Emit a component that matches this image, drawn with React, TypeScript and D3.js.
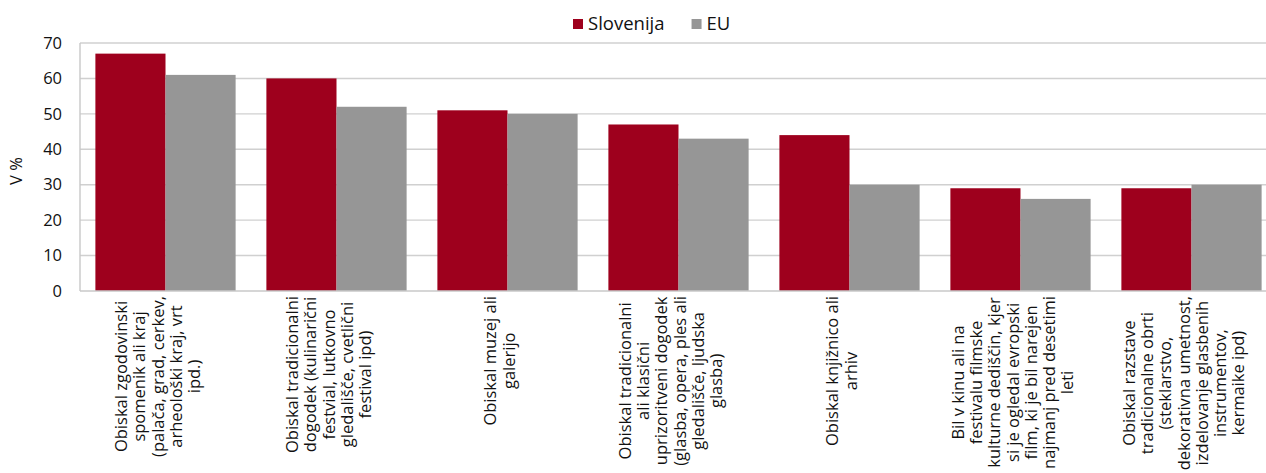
import { useEffect, useRef } from 'react'
import * as d3 from 'd3'

const categories: string[][] = [
  ['Obiskal zgodovinski', 'spomenik ali kraj', '(palača, grad, cerkev,', 'arheološki kraj, vrt', 'ipd.)'],
  ['Obiskal tradicionalni', 'dogodek (kulinarični', 'festvial, lutkovno', 'gledališče, cvetlični', 'festival ipd)'],
  ['Obiskal muzej ali', 'galerijo'],
  ['Obiskal tradicionalni', 'ali klasični', 'uprizoritveni dogodek', '(glasba, opera, ples ali', 'gledališče, ljudska', 'glasba)'],
  ['Obiskal knjižnico ali', 'arhiv'],
  ['Bil v kinu ali na', 'festivalu filmske', 'kulturne dediščin, kjer', 'si je ogledal evropski', 'film, ki je bil narejen', 'najmanj pred desetimi', 'leti'],
  ['Obiskal razstave', 'tradicionalne obrti', '(steklarstvo,', 'dekorativna umetnost,', 'izdelovanje glasbenih', 'instrumentov,', 'kermaike ipd)'],
]
const slovenija = [67, 60, 51, 47, 44, 29, 29]
const eu = [61, 52, 50, 43, 30, 26, 30]
const seriesNames = ['Slovenija', 'EU']
const seriesColors = ['#9e001d', '#969696']
const yTicks = [0, 10, 20, 30, 40, 50, 60, 70]

const FONT = '"Open Sans", "Noto Sans", sans-serif'

export default function App() {
  const svgRef = useRef<SVGSVGElement>(null)

  useEffect(() => {
    if (!svgRef.current) return
    const W = 1266
    const H = 473
    const margin = { top: 43, left: 80, bottom: 182 }
    const plotRight = 1277

    const svg = d3.select(svgRef.current)
    svg.selectAll('*').remove()
    svg.attr('width', W).attr('height', H).attr('viewBox', `0 0 ${W} ${H}`)

    const x = d3.scaleBand<number>()
      .domain(d3.range(categories.length))
      .range([margin.left, plotRight])
      .paddingInner(0.18)
      .paddingOuter(0.09)

    const x1 = d3.scaleBand<number>()
      .domain([0, 1])
      .range([0, x.bandwidth()])

    const y = d3.scaleLinear()
      .domain([0, 70])
      .range([H - margin.bottom, margin.top])

    // Grid
    svg.append('g')
      .selectAll('line')
      .data(yTicks.filter(t => t > 0))
      .enter()
      .append('line')
      .attr('x1', margin.left)
      .attr('x2', plotRight)
      .attr('y1', d => y(d))
      .attr('y2', d => y(d))
      .attr('stroke', '#d0d0d0')
      .attr('stroke-width', 1.4)

    // Bars
    const data = categories.map((_, i) => [slovenija[i], eu[i]])
    const groups = svg.append('g')
      .selectAll('g')
      .data(data)
      .enter()
      .append('g')
      .attr('transform', (_, i) => `translate(${x(i)},0)`)

    groups.selectAll('rect')
      .data(d => d)
      .enter()
      .append('rect')
      .attr('x', (_, j) => x1(j)!)
      .attr('width', x1.bandwidth())
      .attr('y', d => y(d))
      .attr('height', d => y(0) - y(d))
      .attr('fill', (_, j) => seriesColors[j])

    // Axis lines
    svg.append('line')
      .attr('x1', margin.left).attr('x2', margin.left)
      .attr('y1', y(70)).attr('y2', y(0))
      .attr('stroke', '#c8c8c8').attr('stroke-width', 1.4)
    svg.append('line')
      .attr('x1', margin.left).attr('x2', plotRight)
      .attr('y1', y(0)).attr('y2', y(0))
      .attr('stroke', '#c8c8c8').attr('stroke-width', 1.4)

    // Y tick labels
    svg.append('g')
      .selectAll('text')
      .data(yTicks)
      .enter()
      .append('text')
      .attr('x', margin.left - 18)
      .attr('y', d => y(d))
      .attr('dy', '0.35em')
      .attr('text-anchor', 'end')
      .attr('font-family', FONT)
      .attr('font-size', 16.5)
      .attr('fill', '#111')
      .text(d => d)

    // Y title
    svg.append('text')
      .attr('transform', `translate(22,171) rotate(-90)`)
      .attr('text-anchor', 'middle')
      .attr('font-family', FONT)
      .attr('font-size', 16.5)
      .attr('fill', '#111')
      .text('V %')

    // Category labels
    const lh = 18.3
    const labelTop = y(0) + 5
    categories.forEach((lines, i) => {
      const cx = x(i)! + x.bandwidth() / 2 - 2
      const t = svg.append('text')
        .attr('font-family', FONT)
        .attr('font-size', 16.5)
        .attr('fill', '#111')
        .attr('text-anchor', 'middle')
      lines.forEach((ln, k) => {
        t.append('tspan')
          .attr('x', 0)
          .attr('y', (k - (lines.length - 1) / 2) * lh)
          .text(ln)
      })
      let maxW = 0
      t.selectAll<SVGTSpanElement, unknown>('tspan').each(function () {
        maxW = Math.max(maxW, this.getComputedTextLength())
      })
      t.attr('transform', `translate(${cx},${labelTop + maxW / 2}) rotate(-90)`)
    })

    // Legend
    const legend = svg.append('g').attr('transform', 'translate(573,0)')
    let lx = 0
    seriesNames.forEach((name, j) => {
      legend.append('rect')
        .attr('x', lx).attr('y', 19)
        .attr('width', 10).attr('height', 10)
        .attr('fill', seriesColors[j])
      const txt = legend.append('text')
        .attr('x', lx + 15).attr('y', 30)
        .attr('font-family', FONT)
        .attr('font-size', 18.5)
        .attr('fill', '#111')
        .text(name)
      lx += 15 + (txt.node() as SVGTextElement).getComputedTextLength() + 27
    })
  }, [])

  return (
    <svg ref={svgRef} style={{ position: 'absolute', left: 0, top: 0, background: '#fff' }} />
  )
}
